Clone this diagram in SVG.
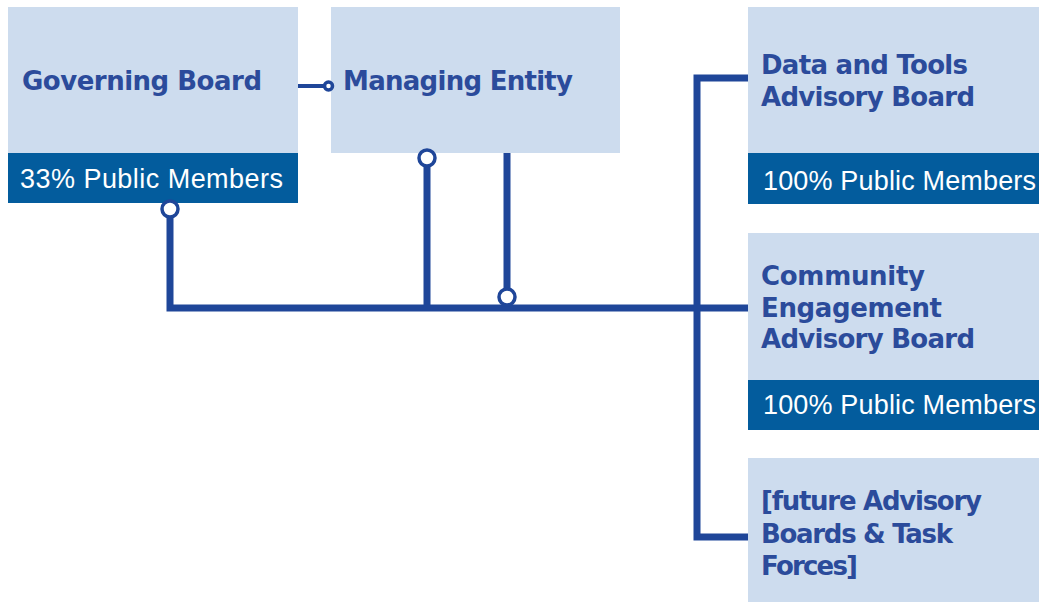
<svg xmlns="http://www.w3.org/2000/svg" width="1039" height="602" viewBox="0 0 1039 602">
<style>
.box{fill:#cddcee}
.band{fill:#035c9d}
.t{font-family:"DejaVu Sans","Liberation Sans",sans-serif;font-weight:bold;font-size:26px;fill:#2b4b9b}
.b{font-family:"Liberation Sans","DejaVu Sans",sans-serif;font-size:27px;fill:#ffffff}
.ln{stroke:#1f4699;stroke-width:7;fill:none}
.thin{stroke:#1f4699;stroke-width:4;fill:none}
.dot{fill:#ffffff;stroke:#1f4699;stroke-width:3.5}
</style>
<rect width="1039" height="602" fill="#ffffff"/>
<g id="governing-board">
<rect class="box" x="8" y="7" width="290" height="146"/>
<rect class="band" x="8" y="153" width="290" height="50"/>
<text class="t" x="22" y="90" textLength="240">Governing Board</text>
<text class="b" x="20" y="188" textLength="263">33% Public Members</text>
</g>
<g id="managing-entity">
<rect class="box" x="331" y="7" width="289" height="146"/>
<text class="t" x="343" y="90" textLength="230">Managing Entity</text>
</g>
<g id="data-tools-board">
<rect class="box" x="748" y="7" width="295" height="146"/>
<rect class="band" x="748" y="153" width="295" height="51"/>
<text class="t" x="761" y="74" textLength="207">Data and Tools</text>
<text class="t" x="761" y="106" textLength="214">Advisory Board</text>
<text class="b" x="763" y="190" textLength="273">100% Public Members</text>
</g>
<g id="community-engagement-board">
<rect class="box" x="748" y="233" width="295" height="147"/>
<rect class="band" x="748" y="380" width="295" height="50"/>
<text class="t" x="761" y="285" textLength="164">Community</text>
<text class="t" x="761" y="317" textLength="181">Engagement</text>
<text class="t" x="761" y="348" textLength="214">Advisory Board</text>
<text class="b" x="763" y="414" textLength="273">100% Public Members</text>
</g>
<g id="future-boards">
<rect class="box" x="748" y="458" width="295" height="150"/>
<text class="t" x="761" y="510" textLength="221">[future Advisory</text>
<text class="t" x="761" y="543" textLength="192">Boards &amp; Task</text>
<text class="t" x="761" y="575" textLength="97">Forces]</text>
</g>
<g id="connectors">
<polyline class="ln" points="170,212 170,308 748,308"/>
<line class="ln" x1="427" y1="160" x2="427" y2="308"/>
<line class="ln" x1="507" y1="153" x2="507" y2="295"/>
<polyline class="ln" points="748,78 697,78 697,537 748,537"/>
<line class="thin" x1="298" y1="86" x2="324" y2="86"/>
<circle class="dot" cx="328.5" cy="86" r="4" stroke-width="2.5"/>
<circle class="dot" cx="170" cy="209" r="8"/>
<circle class="dot" cx="427" cy="158" r="8"/>
<circle class="dot" cx="507" cy="297" r="8"/>
</g>
</svg>
